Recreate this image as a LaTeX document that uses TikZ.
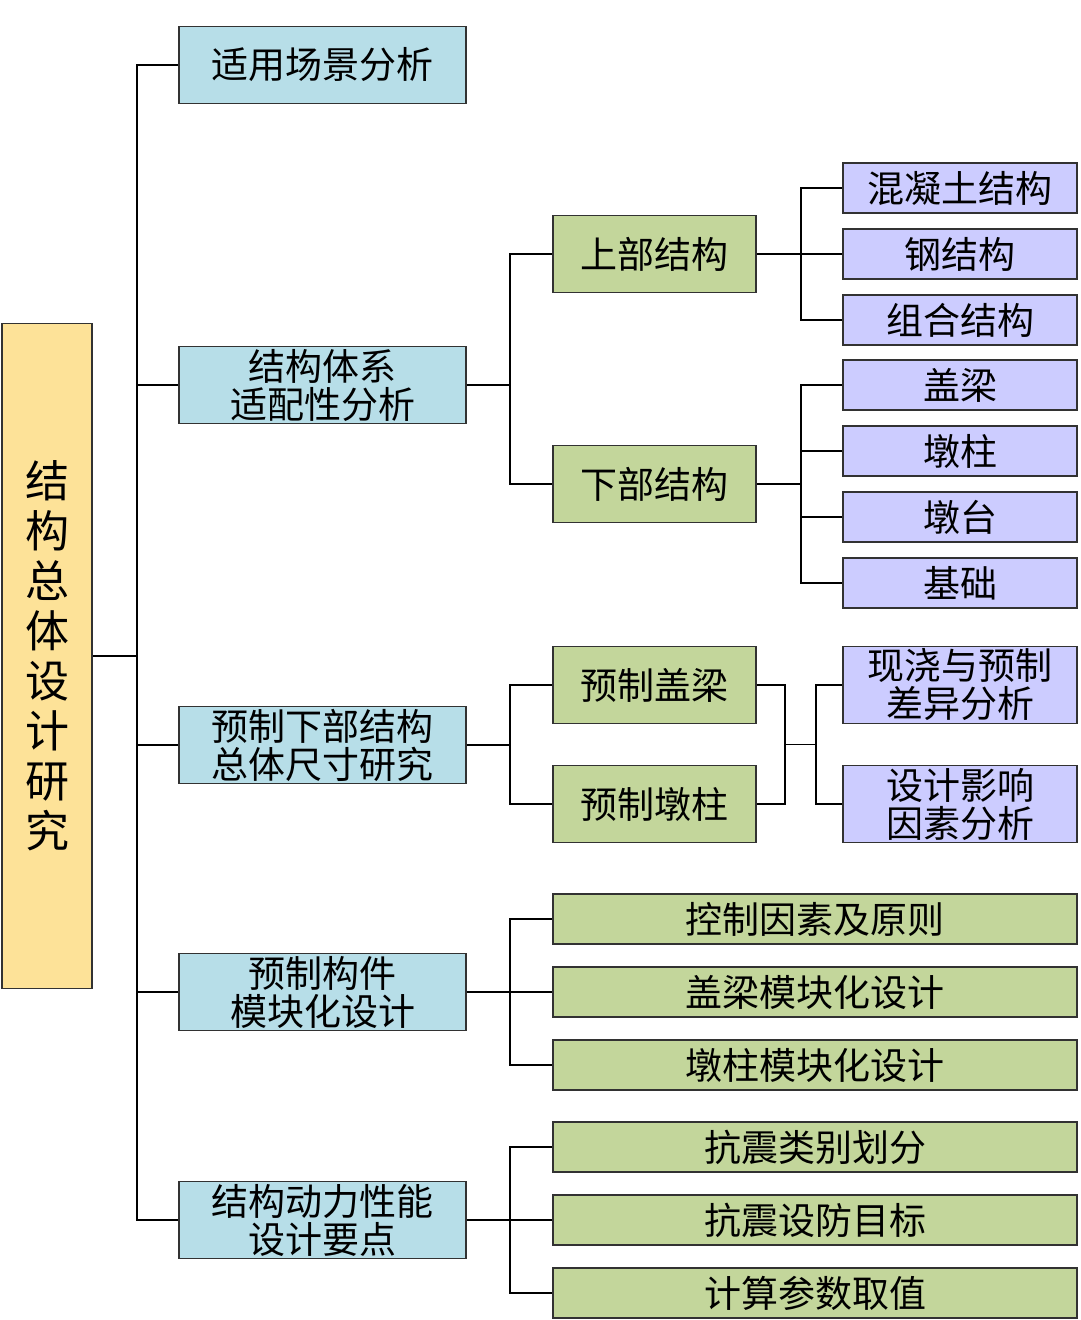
\documentclass[tikz,border=0pt]{standalone}
\usepackage{fontspec}
\setmainfont{Noto Sans CJK SC}
\usetikzlibrary{calc}
\definecolor{rootbg}{RGB}{253,226,152}
\definecolor{lvbg}{RGB}{183,222,232}
\definecolor{subbg}{RGB}{195,214,155}
\definecolor{leafbg}{RGB}{204,204,255}
\definecolor{edge}{RGB}{50,50,50}

\begin{document}
\begin{tikzpicture}[
  x=1pt,y=-1pt,
  box/.style={draw=edge,line width=1.5pt,align=center,inner sep=0pt,font=\fontsize{37}{38}\selectfont},
  root/.style={box,fill=rootbg,minimum width=90pt,minimum height=665pt,font=\fontsize{44}{50}\selectfont},
  lv/.style={box,fill=lvbg,minimum width=287pt,minimum height=77pt},
  sub/.style={box,fill=subbg,minimum width=203pt,minimum height=77pt},
  wide/.style={box,fill=subbg,minimum width=524pt,minimum height=50pt},
  leaf/.style={box,fill=leafbg,minimum width=234pt,minimum height=50pt},
  ln/.style={line width=1.5pt},
]
  \useasboundingbox (0,0) rectangle (1080,1320);
  % root and first level
  \node[root] (R) at (47,656) {结\\构\\总\\体\\设\\计\\研\\究};
  \node[lv] (A) at (322.5,65) {适用场景分析};
  \node[lv] (B) at (322.5,385) {结构体系\\适配性分析};
  \node[lv] (C) at (322.5,745) {预制下部结构\\总体尺寸研究};
  \node[lv] (D) at (322.5,992) {预制构件\\模块化设计};
  \node[lv] (E) at (322.5,1220) {结构动力性能\\设计要点};
  % structure system branch
  \node[sub] (Bu) at (654.5,254) {上部结构};
  \node[sub] (Bd) at (654.5,484) {下部结构};
  \foreach \t [count=\i] in {混凝土结构,钢结构,组合结构}
    \node[leaf] (u\i) at (960,122+66*\i) {\t};
  \foreach \t [count=\i] in {盖梁,墩柱,墩台,基础}
    \node[leaf] (d\i) at (960,319+66*\i) {\t};
  % overall size branch
  \node[sub] (Cb) at (654.5,685) {预制盖梁};
  \node[sub] (Cc) at (654.5,804) {预制墩柱};
  \node[leaf,minimum height=77pt] (Cx) at (960,685) {现浇与预制\\差异分析};
  \node[leaf,minimum height=77pt] (Cy) at (960,804) {设计影响\\因素分析};
  % modular design and dynamics branches
  \foreach \t [count=\i] in {控制因素及原则,盖梁模块化设计,墩柱模块化设计}
    \node[wide] (m\i) at (815,846+73*\i) {\t};
  \foreach \t [count=\i] in {抗震类别划分,抗震设防目标,计算参数取值}
    \node[wide] (e\i) at (815,1074+73*\i) {\t};
  % connectors
  \draw[ln] (R.east) -- ++(44,0) coordinate (t);
  \foreach \n in {A,B,C,D,E}
    \draw[ln] (t) |- (\n.west);
  \draw[ln] (B.east) -- ++(43,0) coordinate (tb);
  \draw[ln] (tb) |- (Bu.west);
  \draw[ln] (tb) |- (Bd.west);
  \draw[ln] (Bu.east) -- ++(44,0) coordinate (tu);
  \foreach \i in {1,2,3}
    \draw[ln] (tu) |- (u\i.west);
  \draw[ln] (Bd.east) -- ++(44,0) coordinate (td);
  \foreach \i in {1,...,4}
    \draw[ln] (td) |- (d\i.west);
  \draw[ln] (C.east) -- ++(43,0) coordinate (tc);
  \draw[ln] (tc) |- (Cb.west);
  \draw[ln] (tc) |- (Cc.west);
  \coordinate (mc) at ($(Cb.east)!.5!(Cc.east)+(28,0)$);
  \draw[ln] (Cb.east) -| (mc);
  \draw[ln] (Cc.east) -| (mc);
  \draw[ln] (mc) -- ++(31,0) coordinate (mc2);
  \draw[ln] (mc2) |- (Cx.west);
  \draw[ln] (mc2) |- (Cy.west);
  \draw[ln] (D.east) -- ++(43,0) coordinate (tm);
  \foreach \i in {1,2,3}
    \draw[ln] (tm) |- (m\i.west);
  \draw[ln] (E.east) -- ++(43,0) coordinate (te);
  \foreach \i in {1,2,3}
    \draw[ln] (te) |- (e\i.west);
\end{tikzpicture}
\end{document}
